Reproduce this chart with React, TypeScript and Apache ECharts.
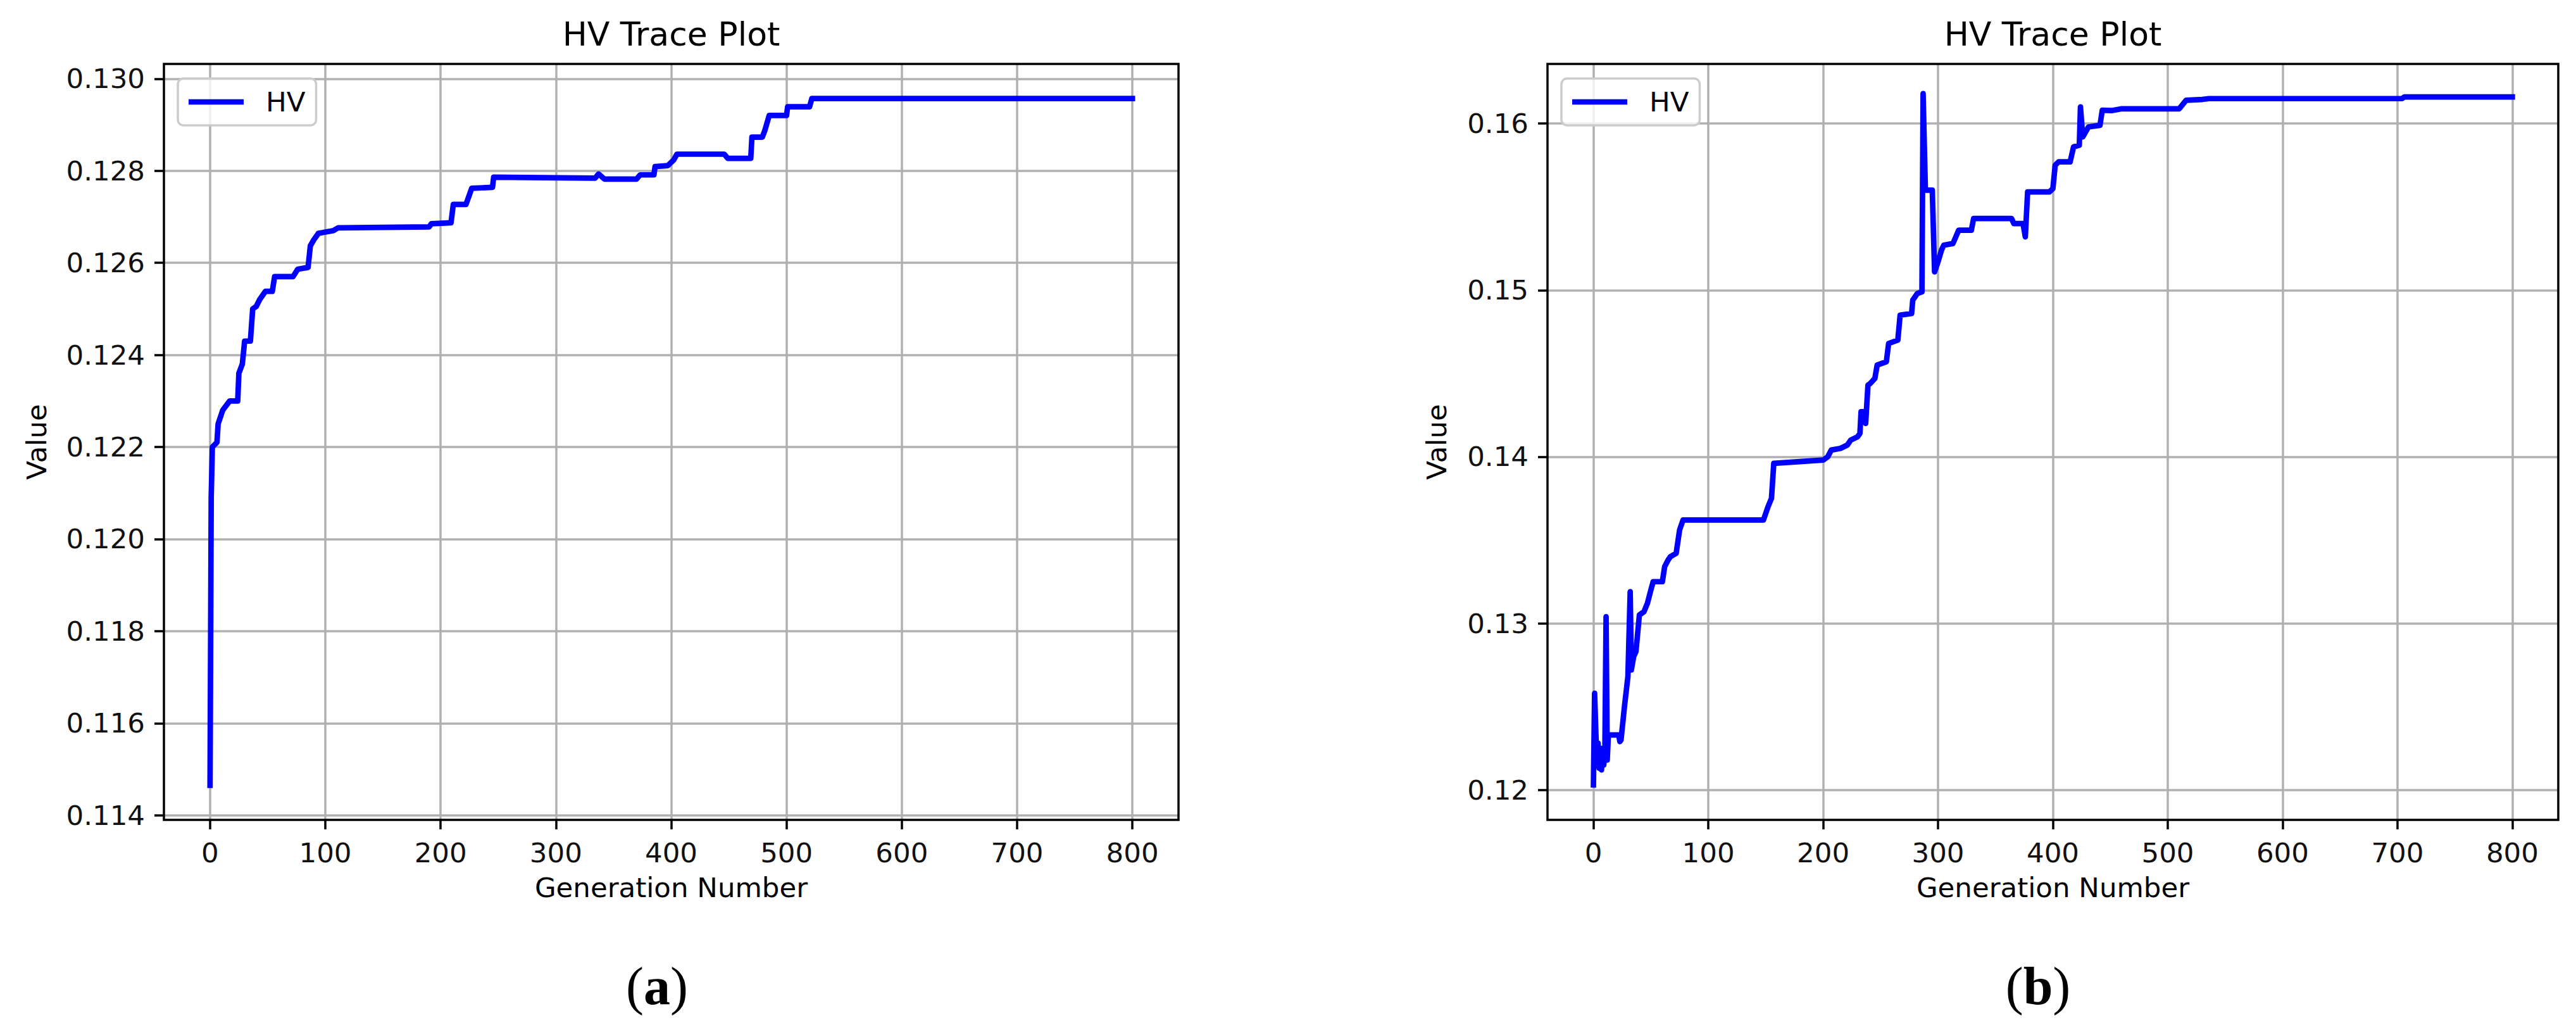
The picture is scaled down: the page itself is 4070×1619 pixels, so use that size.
import React, { useEffect, useRef } from "react";
import * as echarts from "echarts";

// ---- tick labels ----
const xTicks = [0, 100, 200, 300, 400, 500, 600, 700, 800];
const leftYTicks = [0.114, 0.116, 0.118, 0.12, 0.122, 0.124, 0.126, 0.128, 0.13];
const rightYTicks = [0.12, 0.13, 0.14, 0.15, 0.16];

// ---- (a) HV trace ----
const leftGen = [
  0, 1, 2, 6, 7, 11, 17, 24, 25, 28,
  30, 35, 37, 40, 43, 48, 54, 56, 72, 76,
  85, 87, 90, 94, 107, 111, 190, 192, 209, 211,
  222, 227, 245, 246, 334, 337, 342, 370, 373, 385,
  386, 397, 402, 405, 446, 449, 469, 470, 479, 481,
  485, 500, 501, 520, 522, 800,
];
const leftHV = [
  0.11465, 0.1209, 0.122, 0.1221, 0.1225, 0.1228, 0.123, 0.123, 0.1236, 0.1238,
  0.1243, 0.1243, 0.125, 0.12505, 0.1252, 0.12538, 0.12538, 0.1257, 0.1257, 0.12586,
  0.1259, 0.12637, 0.1265, 0.12664, 0.1267, 0.12676, 0.12678, 0.12685, 0.12687, 0.12727,
  0.12727, 0.12762, 0.12764, 0.12786, 0.12784, 0.12793, 0.12782, 0.12782, 0.12791, 0.12791,
  0.12809, 0.12811, 0.12823, 0.12836, 0.12836, 0.12827, 0.12827, 0.12873, 0.12873, 0.12886,
  0.1292, 0.1292, 0.12939, 0.12939, 0.12957, 0.12957,
];

// ---- (b) HV trace ----
const rightGen = [
  0, 1, 3, 4, 5, 6, 7, 8, 9, 10,
  11, 12, 13, 22, 23, 24, 27, 30, 32, 33,
  35, 37, 40, 44, 47, 50, 52, 60, 62, 65,
  67, 72, 75, 78, 148, 150, 152, 155, 157, 200,
  204, 207, 215, 221, 224, 230, 232, 233, 235, 237,
  239, 241, 245, 247, 255, 257, 265, 267, 277, 278,
  282, 286, 287, 289, 295, 297, 300, 303, 305, 313,
  318, 329, 331, 364, 366, 374, 376, 378, 397, 400,
  402, 405, 415, 418, 423, 424, 426, 431, 441, 443,
  451, 460, 510, 516, 530, 536, 704, 706, 800,
];
const rightHV = [
  0.1203, 0.1258, 0.1215, 0.1228, 0.1213, 0.1225, 0.1212, 0.1222, 0.1215, 0.1226,
  0.1304, 0.1218, 0.1233, 0.1233, 0.1229, 0.123, 0.125, 0.1268, 0.1319, 0.1272,
  0.128, 0.1283, 0.1305, 0.1307, 0.1312, 0.132, 0.1325, 0.1325, 0.1334, 0.1338,
  0.134, 0.1342, 0.1356, 0.1362, 0.1362, 0.1366, 0.137, 0.1375, 0.1396, 0.1398,
  0.14, 0.1404, 0.1405, 0.1407, 0.141, 0.1412, 0.1414, 0.1427, 0.1427, 0.142,
  0.1443, 0.1444, 0.1447, 0.1455, 0.1457, 0.1468, 0.147, 0.1485, 0.1486, 0.1494,
  0.1498, 0.1499, 0.1618, 0.156, 0.156, 0.1511, 0.1517, 0.1524, 0.1527, 0.1528,
  0.1536, 0.1536, 0.1543, 0.1543, 0.154, 0.154, 0.1532, 0.1559, 0.1559, 0.1561,
  0.1575, 0.1577, 0.1577, 0.1586, 0.1587, 0.161, 0.1592, 0.1598, 0.1599, 0.1608,
  0.16078, 0.16089, 0.16089, 0.1614, 0.16145, 0.1615, 0.1615, 0.1616, 0.1616,
];

const titleText = "HV Trace Plot";
const xName = "Generation Number";
const yName = "Value";
const seriesName = "HV";

const FONT = "'DejaVu Sans', Verdana, sans-serif";
const FS = 43.5;
const W = 4070;
const H = 1619;

const GRIDS = [
  { left: 259, top: 101, width: 1603, height: 1194 },
  { left: 2445, top: 101, width: 1597, height: 1194 },
];

function xAxisFor(gridIndex: number) {
  return {
    type: "value",
    gridIndex,
    position: "bottom",
    min: -40,
    max: 840,
    splitNumber: 9,
    name: xName,
    nameLocation: "middle",
    nameGap: 85,
    nameTextStyle: { fontFamily: FONT, fontSize: FS, color: "#000" },
    axisLine: { show: false, onZero: false },
    axisTick: {
      show: true,
      length: 15,
      customValues: xTicks,
      lineStyle: { color: "#000", width: 3.5 },
    },
    axisLabel: {
      fontFamily: FONT,
      fontSize: FS,
      color: "#111",
      margin: 30,
      customValues: xTicks,
      formatter: (v: number) => String(Math.round(v)),
    },
    splitLine: { show: true, lineStyle: { color: "#b0b0b0", width: 3.5 } },
  };
}

function yAxisFor(
  gridIndex: number,
  min: number,
  max: number,
  splitNumber: number,
  ticks: number[],
  digits: number,
  nameGap: number
) {
  return {
    type: "value",
    gridIndex,
    position: "left",
    min,
    max,
    splitNumber,
    name: yName,
    nameLocation: "middle",
    nameRotate: 90,
    nameGap,
    nameTextStyle: { fontFamily: FONT, fontSize: FS, color: "#000" },
    axisLine: { show: false, onZero: false },
    axisTick: {
      show: true,
      length: 15,
      customValues: ticks,
      lineStyle: { color: "#000", width: 3.5 },
    },
    axisLabel: {
      fontFamily: FONT,
      fontSize: FS,
      color: "#111",
      margin: 30,
      customValues: ticks,
      formatter: (v: number) => v.toFixed(digits),
    },
    splitLine: { show: true, lineStyle: { color: "#b0b0b0", width: 3.5 } },
  };
}

function legendFor(left: number) {
  return {
    left,
    top: 124,
    data: [seriesName],
    icon: "rect",
    itemWidth: 87,
    itemHeight: 8.7,
    padding: [12, 17, 12, 17],
    backgroundColor: "rgba(255,255,255,0.8)",
    borderColor: "#cccccc",
    borderWidth: 3.5,
    borderRadius: 9,
    selectedMode: false,
    textStyle: {
      fontFamily: FONT,
      fontSize: FS,
      color: "#000",
      lineHeight: 50,
      padding: [0, 0, 0, 30],
    },
    z: 6,
  };
}

function seriesFor(idx: number, gens: number[], vals: number[]) {
  return {
    type: "line",
    name: seriesName,
    xAxisIndex: idx,
    yAxisIndex: idx,
    data: gens.map((g, i) => [g, vals[i]]),
    showSymbol: false,
    symbol: "none",
    color: "#0000ff",
    lineStyle: { color: "#0000ff", width: 8.7, cap: "square", join: "round" },
    z: 3,
  };
}

export default function App() {
  const ref = useRef<HTMLDivElement>(null);

  useEffect(() => {
    if (!ref.current) return;
    const chart = echarts.init(ref.current, null, { renderer: "svg", width: W, height: H });

    const frames = GRIDS.map((g) => ({
      type: "rect",
      shape: { x: g.left, y: g.top, width: g.width, height: g.height },
      style: { fill: "none", stroke: "#000", lineWidth: 3.5 },
      silent: true,
      z: 10,
    }));

    const titles = GRIDS.map((g) => ({
      type: "text",
      x: g.left + g.width / 2,
      y: 54,
      style: {
        text: titleText,
        font: `52px ${FONT}`,
        fill: "#000",
        align: "center",
        verticalAlign: "middle",
      },
      z: 10,
    }));

    const captions = [
      { x: 1038, letter: "a" },
      { x: 3220, letter: "b" },
    ].map((c) => ({
      type: "text",
      x: c.x,
      y: 1557,
      style: {
        text: `{p|(}{b|${c.letter}}{p|)}`,
        align: "center",
        verticalAlign: "middle",
        rich: {
          p: { fontFamily: "'Liberation Serif', serif", fontSize: 84, fill: "#000", color: "#000" },
          b: {
            fontFamily: "'Liberation Serif', serif",
            fontSize: 84,
            fontWeight: "bold",
            fill: "#000",
            color: "#000",
          },
        },
      },
      z: 10,
    }));

    chart.setOption({
      animation: false,
      backgroundColor: "#ffffff",
      grid: GRIDS.map((g) => ({
        ...g,
        show: true,
        backgroundColor: "#ffffff",
        borderWidth: 0,
        containLabel: false,
        outerBoundsMode: "none",
      })),
      xAxis: [xAxisFor(0), xAxisFor(1)],
      yAxis: [
        yAxisFor(0, 0.1139, 0.13032, 8, leftYTicks, 3, 179),
        yAxisFor(1, 0.1182, 0.16358, 5, rightYTicks, 2, 153),
      ],
      legend: [legendFor(281), legendFor(2467)],
      series: [seriesFor(0, leftGen, leftHV), seriesFor(1, rightGen, rightHV)],
      graphic: [...frames, ...titles, ...captions],
    });

    return () => {
      chart.dispose();
    };
  }, []);

  return (
    <div
      ref={ref}
      style={{ position: "fixed", left: 0, top: 0, width: W, height: H, background: "#fff" }}
    />
  );
}
